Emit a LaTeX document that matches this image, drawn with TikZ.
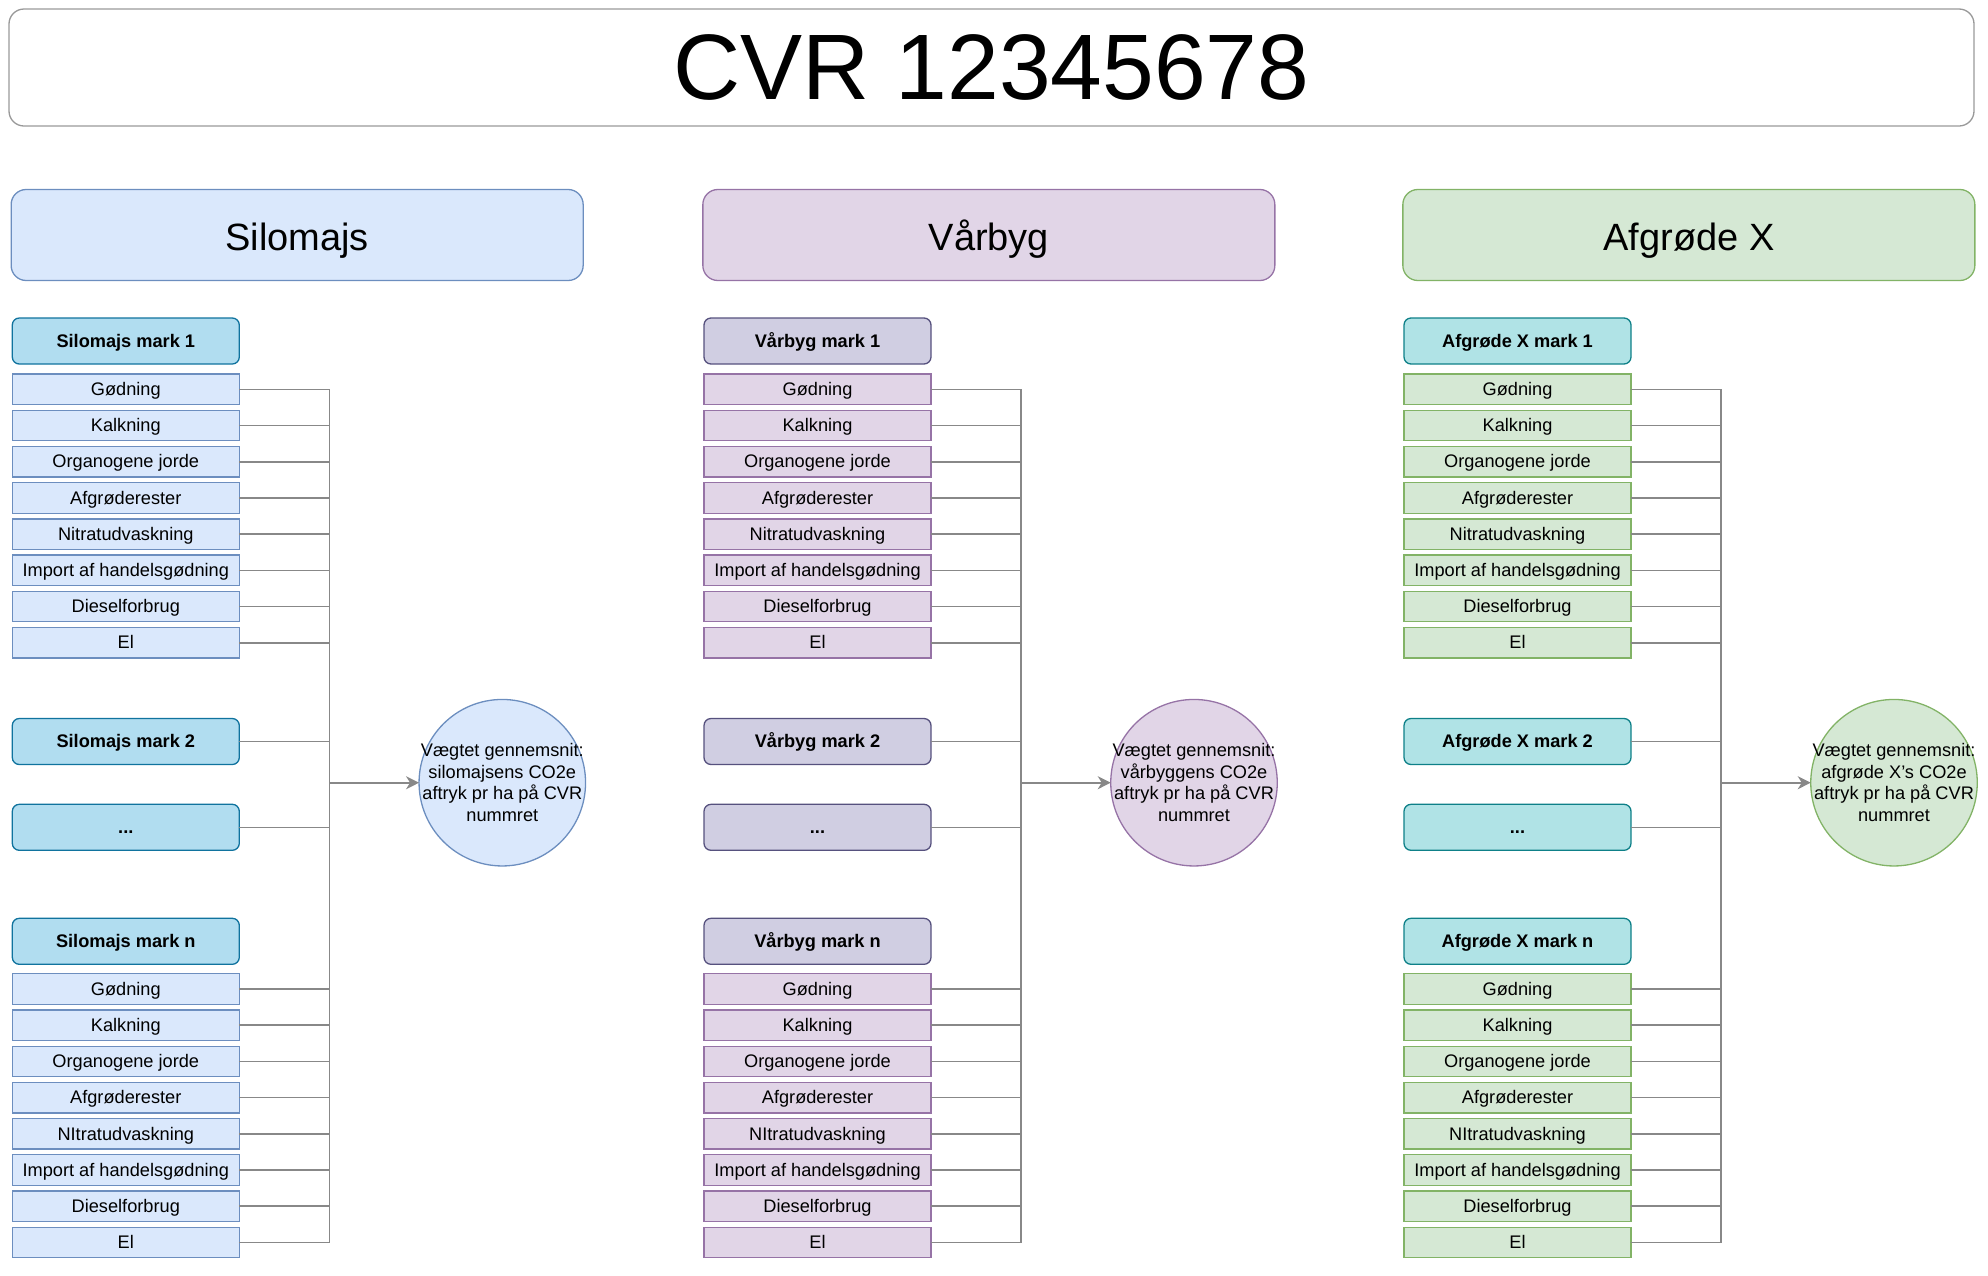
\documentclass[tikz,border=0pt]{standalone}
\usepackage{fontspec}
\setmainfont{Liberation Sans}
\usetikzlibrary{positioning,arrows.meta}

\definecolor{siloFill}{HTML}{DAE8FC}
\definecolor{siloDraw}{HTML}{6C8EBF}
\definecolor{siloMarkFill}{HTML}{B1DDF0}
\definecolor{siloMarkDraw}{HTML}{10739E}
\definecolor{vaarFill}{HTML}{E1D5E7}
\definecolor{vaarDraw}{HTML}{9673A6}
\definecolor{vaarMarkFill}{HTML}{D0CEE2}
\definecolor{vaarMarkDraw}{HTML}{56517E}
\definecolor{afgFill}{HTML}{D5E8D4}
\definecolor{afgDraw}{HTML}{82B366}
\definecolor{afgMarkFill}{HTML}{B0E3E6}
\definecolor{afgMarkDraw}{HTML}{0E8088}
\definecolor{linkGray}{HTML}{888888}
\definecolor{titleGray}{HTML}{999999}

\begin{document}
\begin{tikzpicture}[x=1pt, y=-1pt,
        box/.style={draw, line width=1.3pt, inner sep=0pt, outer sep=0pt,
            text height=16.4pt, text depth=3.9pt, font=\fontsize{18.2}{21.5}\selectfont},
        header/.style={box, rounded corners=15pt, minimum width=572pt, minimum height=91pt,
            text height=39.4pt, text depth=8.1pt, font=\fontsize{38}{45}\selectfont},
        markbox/.style={box, rounded corners=7pt, minimum width=227pt, minimum height=46pt,
            font=\fontsize{18.2}{21.5}\selectfont\bfseries},
        itembox/.style={box, minimum width=227pt, minimum height=30.5pt},
        avgcircle/.style={box, circle, minimum size=166.5pt},
        avgtext/.style={align=center, inner sep=0pt, font=\fontsize{18.2}{21.5}\selectfont},
        link/.style={draw=linkGray, line width=1.6pt},
        linkarrow/.style={link, -{Stealth[length=13pt, width=13pt, inset=4pt]}}
    ]
    \useasboundingbox (0,0) rectangle (1988,1275);

    \node[box, draw=titleGray, rounded corners=15pt, minimum width=1965pt, minimum height=117pt,
        text height=83.3pt, text depth=19.5pt, font=\fontsize{93}{111}\selectfont]
        (cvr) at (991.5,67.5) {CVR 12345678};

    \foreach \i/\x/\crop/\fc/\dc/\mf/\md/\what in {
            1/11/Silomajs/siloFill/siloDraw/siloMarkFill/siloMarkDraw/silomajsens,
            2/702.7/Vårbyg/vaarFill/vaarDraw/vaarMarkFill/vaarMarkDraw/vårbyggens,
            3/1402.7/Afgrøde X/afgFill/afgDraw/afgMarkFill/afgMarkDraw/afgrøde X's} {

        \node[header, fill=\fc, draw=\dc] (head\i) at (\x+286.15,235) {\crop};

        % marks
        \node[markbox, fill=\mf, draw=\md] (m\i-1) at (\x+114.8,341) {\crop\ mark 1};
        \node[markbox, fill=\mf, draw=\md] (m\i-2) at (\x+114.8,741.5) {\crop\ mark 2};
        \node[markbox, fill=\mf, draw=\md] (m\i-3) at (\x+114.8,827.3) {...};
        \node[markbox, fill=\mf, draw=\md] (m\i-n) at (\x+114.8,941.3) {\crop\ mark n};

        \foreach \t [count=\j] in {Gødning, Kalkning, Organogene jorde, Afgrøderester,
                Nitratudvaskning, Import af handelsgødning, Dieselforbrug, El}
            \node[itembox, fill=\fc, draw=\dc] (f\i-1-\j) at (\x+114.8,389.3+36.2*\j-36.2) {\t};
        \foreach \t [count=\j] in {Gødning, Kalkning, Organogene jorde, Afgrøderester,
                NItratudvaskning, Import af handelsgødning, Dieselforbrug, El}
            \node[itembox, fill=\fc, draw=\dc] (f\i-n-\j) at (\x+114.8,989+36.2*\j-36.2) {\t};

        % result
        \node[avgcircle, fill=\fc, draw=\dc] (avg\i) at (\x+491.3,782.7) {};
        \node[avgtext] (avgtxt\i) at (avg\i) {Vægtet gennemsnit:\\\what\ CO2e\\aftryk pr ha på CVR\\nummret};

        \coordinate (j\i) at (\x+318.3,782.7);
        \foreach \j in {1,...,8} {
            \draw[link] (f\i-1-\j.east) -| (j\i);
            \draw[link] (f\i-n-\j.east) -| (j\i);
        }
        \draw[link] (m\i-2.east) -| (j\i);
        \draw[link] (m\i-3.east) -| (j\i);
        \draw[linkarrow] (j\i) -- (avg\i.west);
    }

\end{tikzpicture}
\end{document}
